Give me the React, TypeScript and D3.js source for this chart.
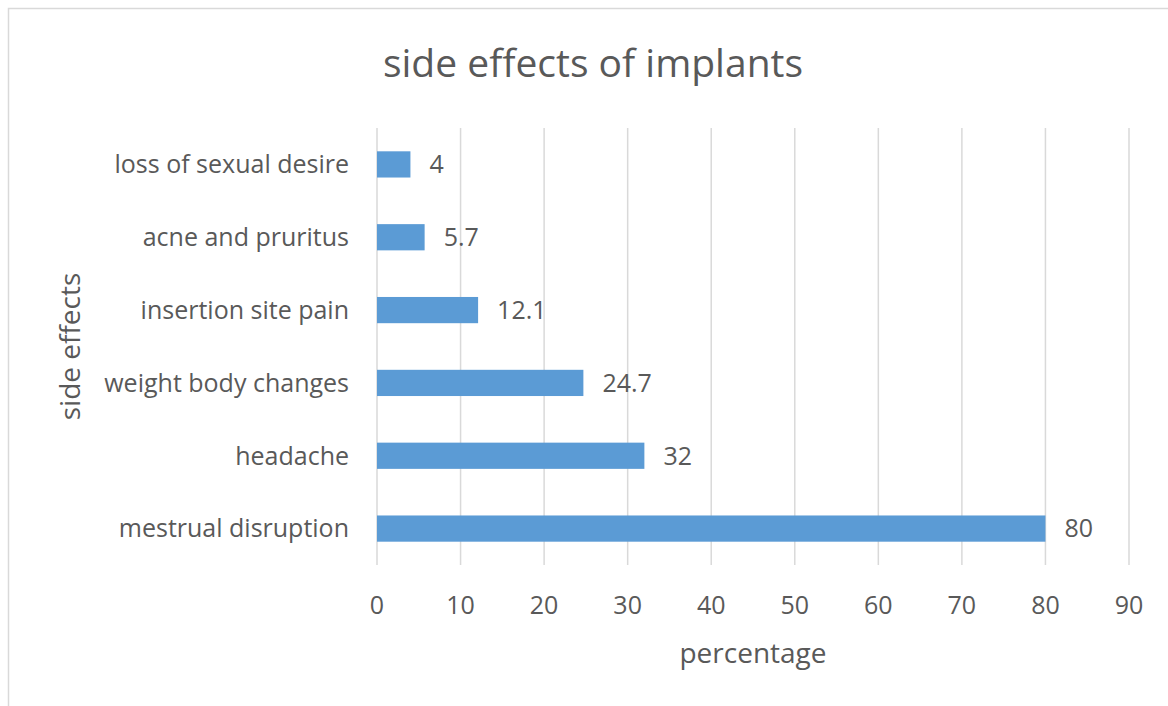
import React from 'react';
import * as d3 from 'd3';

// data
const categories = [
  'mestrual disruption',
  'headache',
  'weight body changes',
  'insertion site pain',
  'acne and pruritus',
  'loss of sexual desire',
];
const values = [80, 32, 24.7, 12.1, 5.7, 4];
const xTicks = [0, 10, 20, 30, 40, 50, 60, 70, 80, 90];

const W = 1168;
const H = 706;
const margin = { top: 128, right: 39, bottom: 141, left: 377 };
const textColor = '#595959';
const font = '"Open Sans", "Noto Sans", sans-serif';

export default function App() {
  const figW = W - margin.left - margin.right;
  const figH = H - margin.top - margin.bottom;

  const x = d3.scaleLinear().domain([0, 90]).range([0, figW]);
  // first category sits at the bottom, like Excel does it
  const y = d3
    .scaleBand()
    .domain(categories)
    .range([figH, 0])
    .paddingInner(0.64)
    .paddingOuter(0.32);

  return (
    <svg
      width={W}
      height={H}
      style={{ position: 'absolute', left: 0, top: 0, background: '#fff' }}
      fontFamily={font}
    >
      <rect x={8.5} y={8.5} width={W + 20} height={H + 20} fill="#fff" stroke="#d9d9d9" strokeWidth={1.5} />

      <text x={593} y={77} textAnchor="middle" fontSize={39} fill={textColor}>
        side effects of implants
      </text>

      <g transform={`translate(${margin.left},${margin.top})`}>
        {xTicks.map((t) => (
          <line key={'g' + t} x1={x(t)} x2={x(t)} y1={0} y2={figH} stroke="#d9d9d9" strokeWidth={1.5} />
        ))}

        {categories.map((c, i) => (
          <rect key={c} x={x(0)} y={y(c)} width={x(values[i]) - x(0)} height={y.bandwidth()} fill="#5b9bd5" />
        ))}

        {categories.map((c, i) => (
          <text
            key={'v' + c}
            x={x(values[i]) + 19}
            y={y(c)! + y.bandwidth() / 2}
            dy="0.35em"
            fontSize={25}
            fill={textColor}
          >
            {values[i]}
          </text>
        ))}

        {categories.map((c) => (
          <text
            key={'c' + c}
            x={-28}
            y={y(c)! + y.bandwidth() / 2}
            dy="0.35em"
            textAnchor="end"
            fontSize={25}
            fill={textColor}
          >
            {c}
          </text>
        ))}

        {xTicks.map((t) => (
          <text key={'t' + t} x={x(t)} y={figH + 40} dy="0.35em" textAnchor="middle" fontSize={25} fill={textColor}>
            {t}
          </text>
        ))}

        <text x={figW / 2} y={figH + 98} textAnchor="middle" fontSize={28} fill={textColor}>
          percentage
        </text>

        <text
          transform={`translate(${80 - margin.left},${figH / 2}) rotate(-90)`}
          textAnchor="middle"
          fontSize={28}
          fill={textColor}
        >
          side effects
        </text>
      </g>
    </svg>
  );
}
